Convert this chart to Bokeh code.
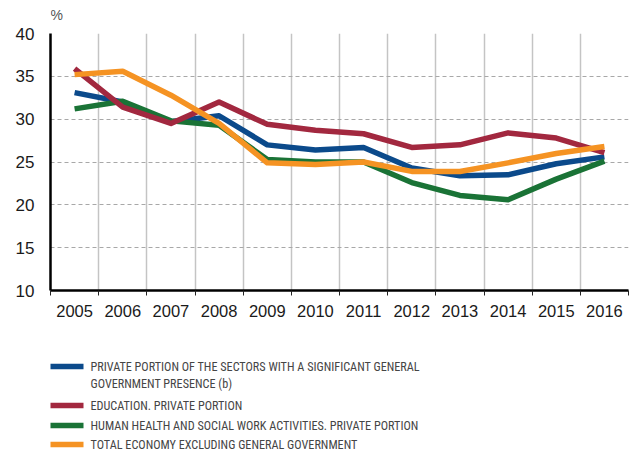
from bokeh.plotting import figure
from bokeh.models import Range1d, FixedTicker
from bokeh.layouts import column
from bokeh.embed import file_html
from bokeh.resources import INLINE
from bokeh.core.properties import value

years = [2005, 2006, 2007, 2008, 2009, 2010, 2011, 2012, 2013, 2014, 2015, 2016]
private_sectors = [33.1, 32.0, 29.7, 30.4, 27.0, 26.4, 26.7, 24.3, 23.4, 23.5, 24.8, 25.6]
education = [35.9, 31.4, 29.5, 32.0, 29.4, 28.7, 28.3, 26.7, 27.0, 28.4, 27.8, 26.1]
health = [31.2, 32.1, 29.8, 29.3, 25.3, 25.0, 25.0, 22.6, 21.1, 20.6, 23.0, 25.1]
total_economy = [35.2, 35.6, 32.8, 29.5, 24.9, 24.7, 25.0, 23.9, 23.9, 24.9, 26.0, 26.8]

series_names = [
    ["PRIVATE PORTION OF THE SECTORS WITH A SIGNIFICANT GENERAL", "GOVERNMENT PRESENCE (b)"],
    ["EDUCATION. PRIVATE PORTION"],
    ["HUMAN HEALTH AND SOCIAL WORK ACTIVITIES. PRIVATE PORTION"],
    ["TOTAL ECONOMY EXCLUDING GENERAL GOVERNMENT"],
]
unit_label = "%"
colors = ["#0b4a8b", "#a2283f", "#1a7336", "#f59323"]
series = [private_sectors, education, health, total_economy]
draw_order = [0, 2, 1, 3]

y_ticks = [10, 15, 20, 25, 30, 35, 40]
boundaries = [y - 0.5 for y in years] + [years[-1] + 0.5]

FONT = "Liberation Sans"
NARROW = "'Liberation Sans Narrow', 'Roboto Condensed', 'DejaVu Sans Condensed', 'Liberation Sans'"


def blank(height, y0, y1):
    f = figure(width=632, height=height, output_backend="svg", toolbar_location=None,
               x_range=Range1d(50, 628), y_range=Range1d(y1, y0),
               min_border_left=50, min_border_right=4, min_border_top=0, min_border_bottom=0)
    f.axis.visible = False
    f.grid.visible = False
    f.outline_line_color = None
    return f


# top strip with the unit label (page-pixel coordinates 0..25)
top = blank(25, 0, 25)
top.text([50], [14], text=[unit_label], text_font=value(FONT), text_font_size="14px",
         text_color="#555555", text_baseline="middle", text_align="left")

p = figure(width=632, height=305, output_backend="svg", toolbar_location=None,
           x_range=Range1d(years[0] - 0.5, years[-1] + 0.5),
           y_range=Range1d(10, 40),
           min_border_left=50, min_border_right=4, min_border_top=8, min_border_bottom=40)
p.outline_line_color = None
p.background_fill_color = "white"

for i in draw_order:
    p.line(years, series[i], line_color=colors[i], line_width=5.5, line_join="round")

xa = p.xaxis[0]
xa.ticker = FixedTicker(ticks=years, minor_ticks=boundaries)
xa.major_tick_out = 0
xa.major_tick_in = 0
xa.minor_tick_out = 5
xa.minor_tick_in = 0
xa.minor_tick_line_color = "#222222"
xa.minor_tick_line_width = 1
xa.axis_line_color = "black"
xa.axis_line_width = 2.5
xa.major_label_text_font = FONT
xa.major_label_text_font_size = "16.5px"
xa.major_label_text_color = "#1a1a1a"
xa.major_label_standoff = 9

ya = p.yaxis[0]
ya.ticker = FixedTicker(ticks=y_ticks)
ya.major_tick_out = 0
ya.major_tick_in = 0
ya.minor_tick_line_color = None
ya.axis_line_color = "black"
ya.axis_line_width = 2.5
ya.major_label_text_font = FONT
ya.major_label_text_font_size = "17px"
ya.major_label_text_color = "#1a1a1a"
ya.major_label_standoff = 16

p.xgrid.ticker = FixedTicker(ticks=boundaries[1:])
p.xgrid.grid_line_color = "#c4c4c4"
p.xgrid.grid_line_width = 1.5
p.ygrid.ticker = FixedTicker(ticks=y_ticks[1:])
p.ygrid.grid_line_color = "#a8a8a8"
p.ygrid.grid_line_width = 1
p.ygrid.grid_line_dash = "4 3"

# legend strip (page-pixel coordinates 330..452)
leg = blank(122, 330, 452)
item_y = [366, 405, 425, 444]
for i in range(4):
    yy = item_y[i]
    leg.line([41, 83], [yy, yy], line_color=colors[i], line_width=5.5)
    for j, t in enumerate(series_names[i]):
        leg.text([90], [yy + j * 17], text=[t], text_font=value(NARROW),
                 text_font_size="12.2px", text_color="#454545",
                 text_baseline="middle", text_align="left")

layout = column(top, p, leg, spacing=0)
open("out.html", "w").write(file_html(layout, INLINE))
